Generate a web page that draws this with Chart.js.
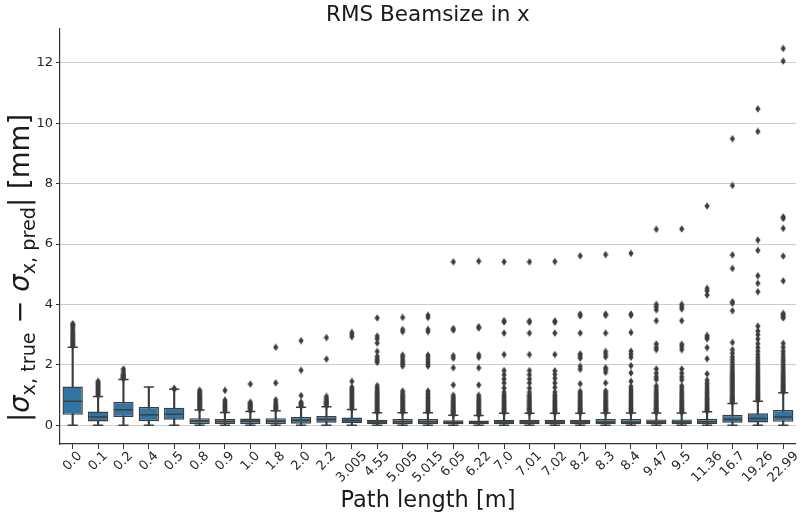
<!DOCTYPE html>
<html>
<head>
<meta charset="utf-8">
<script src="https://cdn.jsdelivr.net/npm/chart.js@4.4.1/dist/chart.umd.min.js"></script>
<style>
  body { margin: 0; background: #fff; }
  #wrap { width: 807px; height: 512px; }
</style>
</head>
<body>
<div id="wrap"><canvas id="boxChart" width="807" height="512"></canvas></div>
<script>
// path lengths (categories)
const pathLabels = ['0.0', '0.1', '0.2', '0.4', '0.5', '0.8', '0.9', '1.0', '1.8', '2.0', '2.2', '3.005', '4.55', '5.005', '5.015',
    '6.05', '6.22', '7.0', '7.01', '7.02', '8.2', '8.3', '8.4', '9.47', '9.5', '11.36', '16.7', '19.26', '22.99'];

// box statistics per category [mm]
const whiskerLow = [0, 0, 0, 0, 0, 0, 0, 0, 0, 0, 0, 0, 0, 0, 0, 0, 0, 0, 0, 0, 0, 0, 0, 0, 0, 0, 0, 0, 0];
const quartile1 = [0.34, 0.12, 0.27, 0.13, 0.18, 0.04, 0.04, 0.04, 0.04, 0.05, 0.08, 0.06, 0.03, 0.03, 0.03,
    0.03, 0.03, 0.03, 0.03, 0.03, 0.03, 0.03, 0.03, 0.03, 0.03, 0.04, 0.08, 0.09, 0.11];
const medians = [0.79, 0.27, 0.51, 0.34, 0.36, 0.14, 0.12, 0.13, 0.13, 0.16, 0.19, 0.15, 0.1, 0.11, 0.11,
    0.09, 0.09, 0.1, 0.1, 0.1, 0.1, 0.1, 0.1, 0.1, 0.1, 0.11, 0.19, 0.22, 0.27];
const quartile3 = [1.28, 0.45, 0.77, 0.6, 0.58, 0.23, 0.2, 0.22, 0.23, 0.27, 0.3, 0.25, 0.18, 0.2, 0.2,
    0.16, 0.15, 0.18, 0.18, 0.18, 0.18, 0.2, 0.2, 0.19, 0.19, 0.21, 0.34, 0.39, 0.5];
const whiskerHigh = [2.58, 0.95, 1.51, 1.26, 1.19, 0.5, 0.42, 0.45, 0.48, 0.59, 0.61, 0.52, 0.41, 0.41, 0.41,
    0.33, 0.32, 0.39, 0.39, 0.39, 0.39, 0.4, 0.4, 0.4, 0.4, 0.44, 0.72, 0.79, 1.07];

// fliers, one list per category
const fliers = [
    [2.62, 2.66, 2.7, 2.74, 2.78, 2.83, 2.88, 2.93, 2.98, 3.03, 3.08, 3.15, 3.22, 3.28, 3.33, 3.36],
    [0.98, 1.02, 1.06, 1.1, 1.14, 1.18, 1.22, 1.26, 1.3, 1.34, 1.38, 1.42, 1.45],
    [1.54, 1.57, 1.6, 1.63, 1.66, 1.7, 1.78, 1.86],
    [],
    [1.19, 1.22],
    [0.53, 0.57, 0.61, 0.65, 0.69, 0.73, 0.77, 0.81, 0.85, 0.89, 0.93, 0.97, 1.01, 1.06, 1.11, 1.16],
    [0.45, 0.49, 0.53, 0.57, 0.61, 0.65, 0.69, 0.73, 0.78, 0.83, 1.15],
    [0.48, 0.52, 0.56, 0.6, 0.64, 0.68, 0.72, 0.76, 1.36],
    [0.52, 0.56, 0.6, 0.64, 0.69, 0.76, 0.84, 1.4, 2.58],
    [0.62, 0.65, 0.69, 0.73, 0.76, 0.98, 1.82, 2.8],
    [0.65, 0.69, 0.73, 0.77, 0.82, 0.88, 0.95, 2.19, 2.9],
    [0.55, 0.6, 0.65, 0.7, 0.75, 0.8, 0.85, 0.9, 0.95, 1.0, 1.05, 1.1, 1.15, 1.2, 1.26, 1.45, 2.93, 3.0, 3.07],
    [0.43, 0.47, 0.51, 0.55, 0.6, 0.65, 0.7, 0.75, 0.8, 0.85, 0.9, 0.95, 1.0, 1.05, 1.1, 1.16, 1.23, 1.31,
        2.08, 2.14, 2.2, 2.28, 2.44, 2.72, 2.86, 2.95, 3.55],
    [0.43, 0.47, 0.51, 0.55, 0.6, 0.65, 0.7, 0.75, 0.8, 0.85, 0.9, 0.95, 1.0, 1.06, 1.13,
        1.96, 2.03, 2.1, 2.17, 2.25, 2.32, 3.1, 3.17, 3.57],
    [0.43, 0.47, 0.51, 0.55, 0.6, 0.65, 0.7, 0.75, 0.8, 0.85, 0.9, 0.95, 1.0, 1.06, 1.13,
        1.96, 2.03, 2.1, 2.17, 2.25, 2.32, 3.1, 3.17, 3.57, 3.64],
    [0.35, 0.39, 0.43, 0.47, 0.51, 0.55, 0.6, 0.65, 0.7, 0.75, 0.8, 0.86, 0.92, 0.99, 1.33, 1.9, 2.22, 2.3, 3.15, 3.2, 5.41],
    [0.34, 0.38, 0.42, 0.46, 0.5, 0.55, 0.6, 0.65, 0.7, 0.75, 0.8, 0.86, 0.92, 0.99, 1.33, 1.9, 2.25, 2.33, 3.22, 3.26, 5.43],
    [0.41, 0.45, 0.49, 0.53, 0.57, 0.62, 0.67, 0.72, 0.77, 0.82, 0.88, 0.94, 1.0, 1.09, 1.23, 1.4, 1.53, 1.67, 1.81,
        2.34, 3.05, 3.42, 3.46, 5.41],
    [0.41, 0.45, 0.49, 0.53, 0.57, 0.62, 0.67, 0.72, 0.77, 0.82, 0.88, 0.94, 1.0, 1.09, 1.23, 1.4, 1.53, 1.67, 1.81,
        2.34, 3.05, 3.41, 3.45, 5.41],
    [0.41, 0.45, 0.49, 0.53, 0.57, 0.62, 0.67, 0.72, 0.77, 0.82, 0.88, 0.94, 1.0, 1.09, 1.25, 1.4, 1.55, 1.68, 1.8,
        2.34, 3.05, 3.41, 3.45, 5.42],
    [0.41, 0.45, 0.49, 0.53, 0.57, 0.62, 0.67, 0.72, 0.77, 0.82, 0.88, 0.94, 1.0, 1.06, 1.12, 1.37, 1.85, 1.95,
        2.22, 2.3, 2.36, 3.05, 3.62, 3.68, 5.61],
    [0.42, 0.46, 0.5, 0.54, 0.58, 0.63, 0.68, 0.73, 0.78, 0.83, 0.89, 0.95, 1.01, 1.07, 1.13, 1.4, 1.75, 1.84, 1.9,
        2.26, 2.35, 2.44, 3.05, 3.64, 3.68, 5.65],
    [0.42, 0.46, 0.5, 0.54, 0.58, 0.63, 0.68, 0.73, 0.78, 0.83, 0.89, 0.95, 1.01, 1.07, 1.13, 1.2, 1.28, 1.45, 1.73,
        1.97, 2.25, 2.35, 2.45, 3.07, 3.64, 3.68, 5.69],
    [0.42, 0.46, 0.5, 0.54, 0.58, 0.63, 0.68, 0.73, 0.78, 0.83, 0.89, 0.95, 1.01, 1.07, 1.14, 1.22, 1.3, 1.51, 1.6,
        1.72, 1.86, 2.5, 2.58, 2.69, 3.46, 3.82, 3.92, 4.0, 6.49],
    [0.42, 0.46, 0.5, 0.54, 0.58, 0.63, 0.68, 0.73, 0.78, 0.83, 0.89, 0.95, 1.01, 1.07, 1.14, 1.22, 1.3, 1.5, 1.6,
        1.72, 1.86, 2.5, 2.6, 2.68, 3.46, 3.85, 3.93, 4.0, 6.5],
    [0.46, 0.5, 0.54, 0.58, 0.62, 0.67, 0.72, 0.77, 0.82, 0.87, 0.92, 0.98, 1.04, 1.1, 1.17, 1.24, 1.32, 1.4, 1.49,
        1.7, 2.2, 2.57, 2.86, 2.92, 2.97, 4.31, 4.45, 4.53, 7.26],
    [0.75, 0.79, 0.83, 0.87, 0.91, 0.95, 1.0, 1.05, 1.1, 1.15, 1.2, 1.25, 1.3, 1.35, 1.4, 1.45, 1.5, 1.55, 1.6,
        1.66, 1.72, 1.78, 1.85, 1.92, 2.0, 2.08, 2.17, 2.26, 2.38, 2.5, 2.74, 3.79, 4.04, 4.09, 5.19, 5.64, 7.94, 9.49],
    [0.82, 0.86, 0.9, 0.94, 0.98, 1.02, 1.07, 1.12, 1.17, 1.22, 1.27, 1.32, 1.38, 1.44, 1.5, 1.56, 1.62, 1.68,
        1.75, 1.82, 1.9, 1.98, 2.06, 2.15, 2.24, 2.34, 2.45, 2.57, 2.7, 2.85, 3.0, 3.12, 3.28,
        4.42, 4.7, 4.95, 5.79, 6.13, 9.73, 10.48],
    [1.1, 1.14, 1.18, 1.22, 1.26, 1.3, 1.35, 1.4, 1.45, 1.5, 1.55, 1.6, 1.66, 1.72, 1.78, 1.85, 1.92, 2.0, 2.08,
        2.16, 2.25, 2.35, 2.45, 2.58, 2.71, 3.55, 3.6, 3.65, 3.7, 4.78, 5.6, 6.52, 6.85, 6.9, 12.06, 12.48]
];

const yTickValues = [0, 2, 4, 6, 8, 10, 12];

const boxBlue = '#3274a1';
const lineGrey = '#3d3d3d';
const fontFam = '"DejaVu Sans", sans-serif';

// thin diamond marker like matplotlib 'd'
const diamond = document.createElement('canvas');
diamond.width = 6;
diamond.height = 8;
const dctx = diamond.getContext('2d');
dctx.fillStyle = lineGrey;
dctx.beginPath();
dctx.moveTo(3, 0.3);
dctx.lineTo(5.6, 4);
dctx.lineTo(3, 7.7);
dctx.lineTo(0.4, 4);
dctx.closePath();
dctx.fill();

const flierPoints = [];
fliers.forEach((list, i) => list.forEach(v => flierPoints.push({ x: pathLabels[i], y: v })));

const capPoints = [];
pathLabels.forEach((lab, i) => {
    capPoints.push({ x: lab, y: whiskerLow[i] });
    capPoints.push({ x: lab, y: whiskerHigh[i] });
});

// axis titles and x tick labels (centred on the tick, 45 deg, like matplotlib)
const axisTitles = {
    id: 'axisTitles',
    afterDraw(chart) {
        const { ctx, chartArea } = chart;
        const xScale = chart.scales.x;
        ctx.save();

        // x tick labels
        ctx.fillStyle = '#262626';
        ctx.font = '13px ' + fontFam;
        ctx.textAlign = 'center';
        ctx.textBaseline = 'middle';
        const labelTop = chartArea.bottom + 5.5;
        pathLabels.forEach((lab, i) => {
            const w = ctx.measureText(lab).width;
            const half = (w + 13) * Math.SQRT1_2 / 2;
            ctx.save();
            ctx.translate(xScale.getPixelForTick(i), labelTop + half);
            ctx.rotate(-Math.PI / 4);
            ctx.fillText(lab, 0, 0);
            ctx.restore();
        });

        ctx.fillStyle = '#1a1a1a';
        ctx.textBaseline = 'alphabetic';

        // x title
        ctx.font = '22.5px ' + fontFam;
        ctx.textAlign = 'center';
        ctx.fillText('Path length [m]', (chartArea.left + chartArea.right) / 2, 506.5);

        // y title with subscripts
        const size = 27.5;
        const sub = size * 0.7;
        const parts = [
            { t: '|', f: size + 'px ' + fontFam, dy: 0 },
            { t: 'σ', f: 'italic ' + size + 'px ' + fontFam, dy: 0 },
            { t: 'x, true', f: sub + 'px ' + fontFam, dy: size * 0.22 },
            { t: ' − ', f: size + 'px ' + fontFam, dy: 0 },
            { t: 'σ', f: 'italic ' + size + 'px ' + fontFam, dy: 0 },
            { t: 'x, pred', f: sub + 'px ' + fontFam, dy: size * 0.22 },
            { t: '| [mm]', f: size + 'px ' + fontFam, dy: 0 }
        ];
        let total = 0;
        parts.forEach(p => { ctx.font = p.f; p.w = ctx.measureText(p.t).width; total += p.w; });
        ctx.translate(29, 268);
        ctx.rotate(-Math.PI / 2);
        ctx.textAlign = 'left';
        let xPos = -total / 2;
        parts.forEach(p => {
            ctx.font = p.f;
            ctx.fillText(p.t, xPos, p.dy);
            xPos += p.w;
        });
        ctx.restore();
    }
};

new Chart(document.getElementById('boxChart'), {
    type: 'bar',
    data: {
        labels: pathLabels,
        datasets: [
            {
                type: 'line',
                label: 'fliers',
                data: flierPoints,
                showLine: false,
                pointStyle: diamond,
                pointRadius: 3,
                order: 1
            },
            {
                type: 'line',
                label: 'medians',
                data: medians,
                showLine: false,
                pointStyle: 'line',
                pointRadius: 9.6,
                pointBorderWidth: 1.5,
                pointBorderColor: lineGrey,
                order: 2
            },
            {
                type: 'line',
                label: 'caps',
                data: capPoints,
                showLine: false,
                pointStyle: 'line',
                pointRadius: 5.1,
                pointBorderWidth: 1.5,
                pointBorderColor: lineGrey,
                order: 2
            },
            {
                label: 'boxes',
                data: quartile1.map((q, i) => [q, quartile3[i]]),
                backgroundColor: boxBlue,
                borderColor: lineGrey,
                borderWidth: 1.4,
                borderSkipped: false,
                barPercentage: 0.8,
                categoryPercentage: 1.0,
                grouped: false,
                order: 3
            },
            {
                label: 'whiskers',
                data: whiskerLow.map((lo, i) => [lo, whiskerHigh[i]]),
                backgroundColor: lineGrey,
                barThickness: 1.5,
                grouped: false,
                order: 4
            }
        ]
    },
    options: {
        responsive: false,
        animation: false,
        events: [],
        layout: { padding: { left: 0, right: 4, top: 0, bottom: 0 } },
        plugins: {
            legend: { display: false },
            tooltip: { enabled: false },
            title: {
                display: true,
                text: 'RMS Beamsize in x',
                fullSize: false,
                color: '#1a1a1a',
                font: { family: fontFam, size: 21.5, weight: 'normal', lineHeight: 1.2 },
                padding: { top: 3, bottom: 0.2 }
            }
        },
        scales: {
            x: {
                offset: true,
                grid: { display: true, drawOnChartArea: false, offset: false, tickLength: 5, tickColor: '#333333', tickWidth: 1 },
                border: { display: true, color: '#333333', width: 1.2 },
                ticks: { display: false, autoSkip: false },
                afterFit: s => { s.height = 68; }
            },
            y: {
                min: -0.625,
                max: 13.125,
                afterBuildTicks: s => { s.ticks = yTickValues.map(v => ({ value: v })); },
                grid: { color: '#cccccc', lineWidth: 1, tickLength: 4, tickColor: '#333333' },
                border: { display: true, color: '#333333', width: 1.2 },
                ticks: {
                    padding: 3,
                    color: '#262626',
                    font: { family: fontFam, size: 13 }
                },
                afterFit: s => { s.width = 60; }
            }
        }
    },
    plugins: [axisTitles]
});
</script>
</body>
</html>
